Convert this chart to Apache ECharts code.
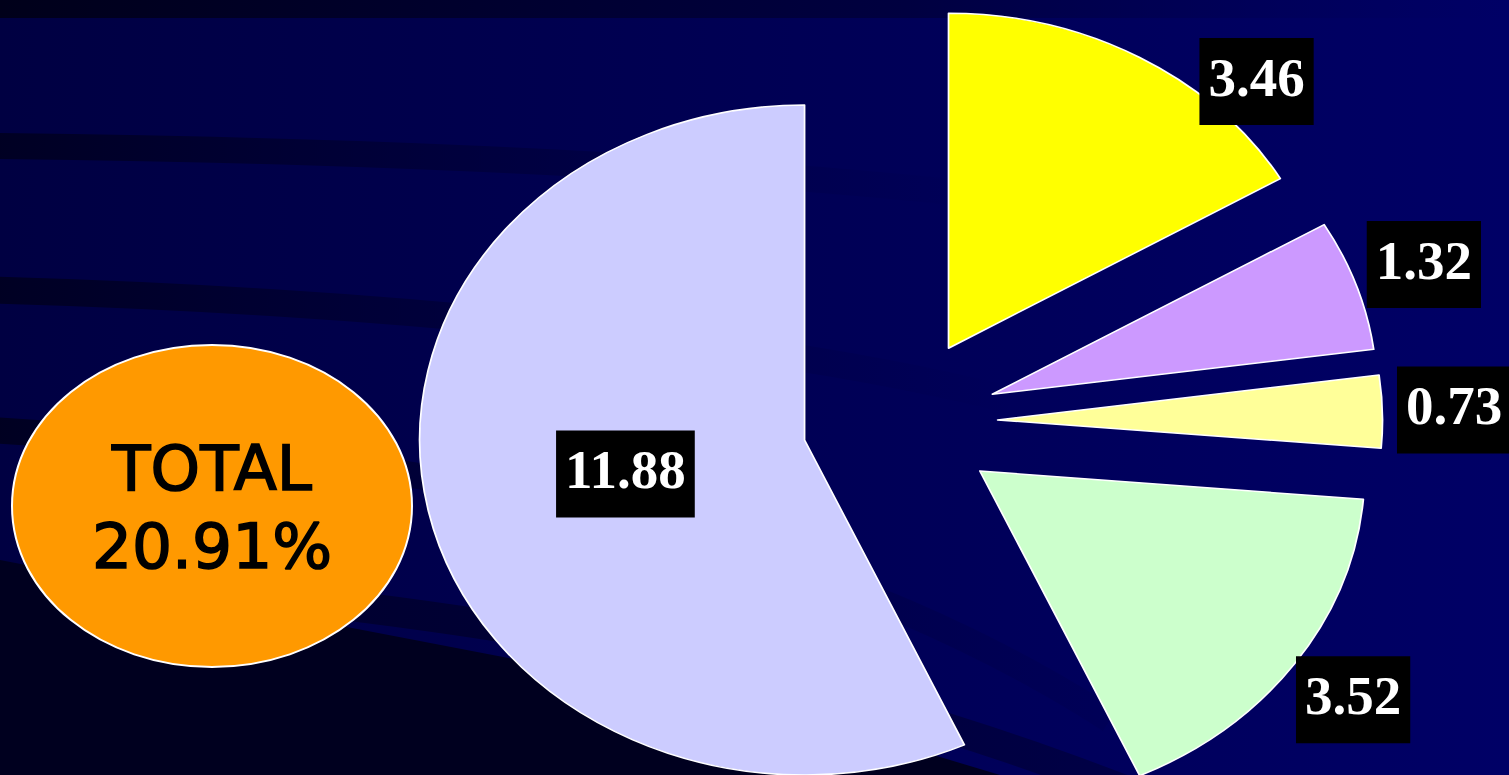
<!DOCTYPE html>
<html>
<head>
<meta charset="utf-8">
<script src="https://cdn.jsdelivr.net/npm/echarts@6/dist/echarts.min.js"></script>
<style>
  html, body { margin: 0; padding: 0; background: #000050; overflow: hidden; }
  .layer { position: absolute; left: 0; top: 0; width: 1509px; height: 775px; }
  #pie { transform: scaleX(1.149); transform-origin: 900px 0; }
</style>
</head>
<body>
<div id="bg" class="layer"></div>
<div id="pie" class="layer"></div>
<div id="labels" class="layer"></div>
<script>
// ---- data ----
const values = [3.46, 1.32, 0.73, 3.52, 11.88];
const sliceColors = ['#FFFF00', '#CC99FF', '#FFFF99', '#CCFFCC', '#CCCCFF'];
const totalLabel = 'TOTAL';

// ---- geometry / style ----
const CX = 900, CY = 422, R = 335, XSCALE = 1.149, EXPLODE = 85;
const total = values.reduce((a, b) => a + b, 0);

// background + total bubble
const bg = echarts.init(document.getElementById('bg'), null, { renderer: 'canvas' });
const band = (x1, y1, cx1, cy1, cx2, cy2, x2, y2, w, c0, c1) => ({
  type: 'bezierCurve',
  shape: { x1, y1, cpx1: cx1, cpy1: cy1, cpx2: cx2, cpy2: cy2, x2, y2 },
  style: {
    fill: null, lineWidth: w,
    stroke: { type: 'linear', x: 0, y: 0, x2: 1, y2: 0, colorStops: [{ offset: 0, color: c0 }, { offset: 1, color: c1 }] }
  },
  silent: true
});
bg.setOption({
  animation: false,
  graphic: [
    { type: 'rect', shape: { x: 0, y: 0, width: 1509, height: 775 },
      style: { fill: { type: 'linear', x: 0, y: 0, x2: 1, y2: 0,
        colorStops: [{ offset: 0, color: '#000042' }, { offset: 1, color: '#000066' }] } }, silent: true },
    { type: 'rect', shape: { x: 0, y: 0, width: 1509, height: 18 },
      style: { fill: { type: 'linear', x: 0, y: 0, x2: 1, y2: 0,
        colorStops: [{ offset: 0, color: '#00001a' }, { offset: 0.6, color: '#000040' }, { offset: 1, color: 'rgba(0,0,90,0)' }] } }, silent: true },
    band(-10, 146, 350, 150, 700, 165, 980, 195, 26, '#000022', 'rgba(0,0,60,0)'),
    band(-10, 290, 350, 300, 750, 335, 1010, 400, 27, '#000022', 'rgba(0,0,60,0)'),
    band(-10, 430, 400, 455, 800, 520, 1110, 720, 26, '#000020', 'rgba(0,0,70,0.2)'),
    band(300, 600, 650, 640, 900, 700, 1150, 800, 30, '#000030', 'rgba(0,0,50,0.5)'),
    { type: 'polygon', shape: { points: [[0, 560], [300, 618], [550, 666], [750, 708], [900, 745], [1000, 775], [0, 775]] },
      style: { fill: '#00001f' }, silent: true },
    { type: 'ellipse', shape: { cx: 212, cy: 506, rx: 200, ry: 161 },
      style: { fill: '#FF9900', stroke: '#ffffff', lineWidth: 2 }, silent: true },
    { type: 'text', x: 212, y: 474,
      style: { text: totalLabel, fill: '#000', stroke: '#000', lineWidth: 1.6, font: '63px "DejaVu Sans"', align: 'center', verticalAlign: 'middle' }, silent: true },
    { type: 'text', x: 212, y: 552,
      style: { text: total.toFixed(2) + '%', fill: '#000', stroke: '#000', lineWidth: 1.6, font: '63px "DejaVu Sans"', align: 'center', verticalAlign: 'middle' }, silent: true }
  ]
});

// exploded pie (stretched horizontally into an ellipse)
const pie = echarts.init(document.getElementById('pie'), null, { renderer: 'svg' });
pie.setOption({
  animation: false,
  series: [{
    type: 'pie',
    center: [CX, CY],
    radius: R,
    startAngle: 90,
    clockwise: true,
    selectedMode: 'multiple',
    selectedOffset: EXPLODE,
    avoidLabelOverlap: false,
    label: { show: false },
    labelLine: { show: false },
    emphasis: { disabled: true },
    itemStyle: { borderColor: '#ffffff', borderWidth: 1.5 },
    select: { itemStyle: { borderColor: '#ffffff', borderWidth: 1.5 } },
    data: values.map((v, i) => ({ value: v, selected: true, itemStyle: { color: sliceColors[i] } }))
  }]
});

// value labels (unstretched layer, positions follow the elliptical pie)
const cum = [];
values.reduce((acc, v, i) => { cum[i] = acc; return acc + v; }, 0);
const labels = echarts.init(document.getElementById('labels'), null, { renderer: 'canvas' });
labels.setOption({
  animation: false,
  series: [{
    type: 'pie',
    center: [CX, CY],
    radius: [0, 700],
    startAngle: 90,
    clockwise: true,
    silent: true,
    avoidLabelOverlap: false,
    emphasis: { disabled: true },
    itemStyle: { color: 'rgba(0,0,0,0)', borderWidth: 0 },
    labelLine: { show: false },
    label: {
      show: true,
      position: 'inside',
      formatter: p => Number(p.value).toFixed(2),
      color: '#ffffff',
      fontFamily: '"Liberation Serif", "DejaVu Serif", serif',
      fontWeight: 'bold',
      fontSize: 55,
      lineHeight: 55,
      backgroundColor: '#000000',
      padding: [16, 9],
      align: 'center',
      verticalAlign: 'middle'
    },
    labelLayout: function (params) {
      const i = params.dataIndex;
      const share = values[i] / total;
      let theta = (90 - 360 * (cum[i] + values[i] / 2) / total) * Math.PI / 180;
      const h = params.labelRect.height;
      let r = share > 0.5 ? 0.73 * R : 1.44 * R;
      let y = CY - r * Math.sin(theta);
      const top = 38 + h / 2;
      if (y < top) {
        r = r * 0.955;
        theta = Math.asin(Math.min(1, (CY - top) / r));
        y = CY - r * Math.sin(theta);
      }
      const x = CX + XSCALE * r * Math.cos(theta);
      return { x: x, y: y };
    },
    data: values.map(v => ({ value: v }))
  }]
});
</script>
</body>
</html>
